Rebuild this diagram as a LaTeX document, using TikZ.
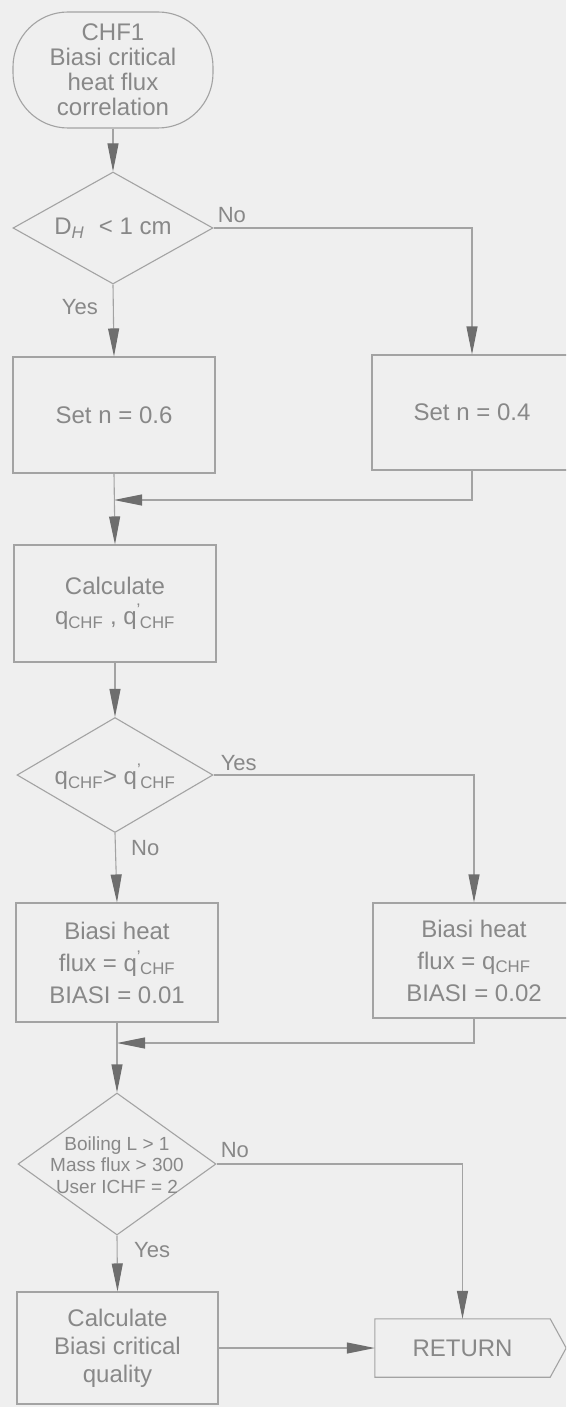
\documentclass[tikz,border=0pt]{standalone}
\usepackage{fontspec}
\setmainfont{Liberation Sans}
\usetikzlibrary{arrows.meta,shapes.geometric,calc}
\definecolor{bgc}{HTML}{EFEFEF}
\definecolor{lnc}{HTML}{A3A3A3}
\definecolor{txc}{HTML}{888888}
\definecolor{ahc}{HTML}{6E6E6E}
\newcommand\qsub{q\textsubscript{CHF}}
\newcommand\qpsub{q\textsuperscript{'}\kern-1pt\textsubscript{CHF}}
\begin{document}
\begin{tikzpicture}[x=1pt,y=-1pt,
  procbox/.style={draw=lnc, line width=1.1pt, minimum width=202pt, minimum height=116pt,
    inner sep=0pt, align=center, text=txc, font=\fontsize{24}{30}\selectfont},
  decbox/.style={draw=lnc, line width=1.1pt, diamond, inner sep=0pt},
  dtext/.style={text=txc, align=center, inner sep=0pt, font=\fontsize{24}{26}\selectfont},
  arr/.style={draw=lnc, line width=1.1pt, -{Triangle[length=28pt,width=11pt,color=ahc]}},
  lbl/.style={text=txc, font=\fontsize{22}{24}\selectfont, inner sep=0pt}]
\clip (0,0) rectangle (566,1407);
\fill[bgc] (0,0) rectangle (566,1407);

% nodes
\node[procbox, rounded corners=55pt, minimum width=200pt, minimum height=116pt,
  font=\fontsize{24}{25}\selectfont] (start) at (113,70) {CHF1\\Biasi critical\\heat flux\\correlation};
\node[decbox, minimum width=200pt, minimum height=112pt] (d1) at (113,228) {};
\node[dtext] (d1t) at (113,228) {D\textsubscript{\itshape H}\,\, < 1 cm};
\node[procbox] (b1) at (114,415) {Set n = 0.6};
\node[procbox, minimum width=200pt, minimum height=115pt] (b2) at (472,412.5) {Set n = 0.4};
\node[procbox, minimum height=117pt] (b3) at (115,603.5) {Calculate\\\qsub{} , \qpsub};
\node[decbox, minimum width=196pt, minimum height=115pt] (d2) at (115,775) {};
\node[dtext] (d2t) at (115,777) {\qsub{}> \qpsub};
\node[procbox, minimum height=119pt, font=\fontsize{24}{32}\selectfont] (b4) at (117,962.5) {Biasi heat\\flux = \qpsub\\BIASI = 0.01};
\node[procbox, minimum height=115pt, font=\fontsize{24}{32}\selectfont] (b5) at (474,960.5) {Biasi heat\\flux = \qsub\\BIASI = 0.02};
\node[decbox, minimum width=198pt, minimum height=142pt] (d3) at (117,1164) {};
\node[dtext, font=\fontsize{19}{21.5}\selectfont] (d3t) at (117,1165) {Boiling L > 1\\Mass flux > 300\\User ICHF = 2};
\node[procbox, minimum width=201pt, minimum height=112pt, font=\fontsize{24}{28}\selectfont] (b6) at (117.5,1348) {Calculate\\Biasi critical\\quality};
\node[text=txc, inner sep=0pt, minimum width=175pt, minimum height=58pt,
  font=\fontsize{24}{26}\selectfont] (ret) at (462.5,1348) {RETURN};
\draw[lnc, line width=1.1pt] (ret.south west) -- (ret.north west) -- (ret.north east)
  -- ($(ret.east)+(16,0)$) -- (ret.south east) -- cycle;

% merge points
\coordinate (m1) at (b1.south |- 0,500);
\coordinate (m2) at (b4.south |- 0,1043);

% connectors
\draw[arr] (start.south) -- (d1.north);
\draw[arr] (d1.east) -| (b2.north);
\draw[arr] (d1.south) -- (b1.north);
\draw[arr] (b2.south) |- (m1);
\draw[arr] (b1.south) -- (b3.north);
\draw[arr] (b3.south) -- (d2.north);
\draw[arr] (d2.east) -| (b5.north);
\draw[arr] (d2.south) -- (b4.north);
\draw[arr] (b5.south) |- (m2);
\draw[arr] (b4.south) -- (d3.north);
\draw[arr] (d3.east) -| (ret.north);
\draw[arr] (d3.south) -- (b6.north);
\draw[arr] (b6.east) -- (ret.west);

% labels
\node[lbl, anchor=south west] (l1) at ($(d1.east)+(4,-5)$) {No};
\node[lbl, anchor=east] (l2) at (98,307) {Yes};
\node[lbl, anchor=south west] (l3) at ($(d2.east)+(7,-4)$) {Yes};
\node[lbl, anchor=west] (l4) at (131,848) {No};
\node[lbl, anchor=south west] (l5) at ($(d3.east)+(4,-6)$) {No};
\node[lbl, anchor=west] (l6) at (134,1250) {Yes};
\end{tikzpicture}
\end{document}
